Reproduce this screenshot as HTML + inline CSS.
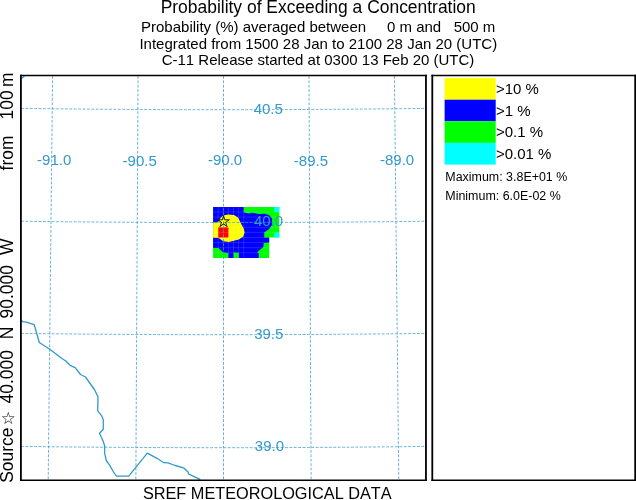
<!DOCTYPE html>
<html lang="en">
<head>
<meta charset="utf-8">
<title>Probability of Exceeding a Concentration</title>
<style>
  html, body { margin: 0; padding: 0; background: #ffffff; }
  body { width: 636px; height: 500px; overflow: hidden; }
  svg { display: block; will-change: transform; }
  text { font-family: "Liberation Sans", "DejaVu Sans", sans-serif; fill: #000; font-kerning: none; font-variant-ligatures: none; }
  .t1 { font-size: 17.45px; }
  .t2 { font-size: 15px; }
  .lab { font-size: 15px; fill: #3399cc; }
  .leg { font-size: 15px; }
  .sm { font-size: 12.45px; }
  .grid { fill: none; stroke: #3399cc; stroke-width: 0.75; stroke-dasharray: 2.8 1.6; }
  .river { fill: none; stroke: #3399cc; stroke-width: 1.3; stroke-linejoin: round; stroke-linecap: round; }
  .frame { fill: none; stroke: #000; stroke-width: 1.8; }
</style>
</head>
<body>
<svg width="636" height="500" viewBox="0 0 636 500">
  <rect x="0" y="0" width="636" height="500" fill="#ffffff"/>

  <!-- titles -->
  <text class="t1" x="318.2" y="12.8" text-anchor="middle">Probability of Exceeding a Concentration</text>
  <text class="t2" x="318.2" y="32" text-anchor="middle" xml:space="preserve" style="white-space:pre">Probability (%) averaged between     0 m and   500 m</text>
  <text class="t2" x="318.3" y="48.6" text-anchor="middle">Integrated from 1500 28 Jan to 2100 28 Jan 20 (UTC)</text>
  <text class="t2" x="318" y="64.7" text-anchor="middle">C-11 Release started at 0300 13 Feb 20 (UTC)</text>

  <!-- concentration probability field -->
  <g shape-rendering="auto">
    <path fill="#00ff00" d="M213.1 206.9 H279.3 V237.6 H269.2 V257.9 H213.1 Z"/>
    <rect fill="#00ffff" x="274.2" y="206.9" width="5.1" height="5.1"/>
    <rect fill="#00ffff" x="274.2" y="232.5" width="5.1" height="5.1"/>
    <path fill="#0000ff" d="M213.1 206.9 H243.75 V212.3 L248.3 213.6 L252.5 212.75 L258.3 214 L265 213.8 L269.2 215.25 L272.1 218.6 V224.8 L269.2 229 L264.2 232.6 V237.6 H269.2 V242.5 L263.75 242.9 L263.3 247.1 L257.1 252.3 L258.75 253.3 V257.9 H238.75 V252.7 L233.6 252.5 V257.9 H228.3 V252.9 L223.3 252.5 L218.3 247.9 H213.1 Z"/>
    <path fill="#ffff00" d="M213.1 222.6 L218.3 222.2 L219.2 219.8 L221.25 217.3 L223.4 215.6 L228 214.6 L234 215.1 L238.2 217.8 L241 223.5 L243.75 228.8 L244.6 232.4 L243.3 236.6 L238.75 239.5 L233.75 240.8 L228.75 242 L223.3 241.2 L218.3 237.7 H213.1 Z"/>
    <rect fill="#ff0000" x="218.2" y="227.3" width="10.3" height="10.3"/>
    <path d="M218.20 206.9 V257.9 M223.30 206.9 V257.9 M228.40 206.9 V257.9 M233.50 206.9 V257.9 M238.60 206.9 V257.9 M243.70 206.9 V257.9 M213.1 212.00 H279.3 M213.1 217.10 H279.3 M213.1 222.20 H279.3 M213.1 227.30 H279.3 M213.1 232.40 H279.3 M213.1 237.50 H279.3 M213.1 242.60 H269.2 M213.1 247.70 H269.2 M213.1 252.80 H269.2" fill="none" stroke="#ffffff" stroke-opacity="0.22" stroke-width="0.6"/>
  </g>

  <!-- map grid -->
  <g class="grid">
    <path d="M52.58 76 L48.20 480"/>
    <path d="M138.04 76 L135.85 480"/>
    <path d="M223.50 76 L223.50 480"/>
    <path d="M308.96 76 L311.15 480"/>
    <path d="M394.42 76 L398.80 480"/>
    <path d="M21 108.39 Q223.5 111.01 426 108.39"/>
    <path d="M21 221.24 Q223.5 223.86 426 221.24"/>
    <path d="M21 333.39 Q223.5 336.01 426 333.39"/>
    <path d="M21 446.39 Q223.5 449.01 426 446.39"/>
  </g>

  <!-- river / boundary -->
  <path class="river" d="M20.6 319.4 L22.6 321.6 L26.3 322.2 L34.2 324.7 L39.3 342.5 L49.7 349.2 L62.2 358.8 L65.5 360.8 L70.2 365.3 L75.5 367.8 L80.5 374.5 L85.5 377 L94.7 390 L98 396.7 L97.7 410.8 L101.7 415.8 L103.3 420 L103.3 429.2 L99.5 433.3 L103 440.8 L104.6 445.8 L104.6 453.2 L106.3 460.5 L109.6 465.1 L113.2 471.5 L116.5 476.2 L128.7 476.2 L147.3 453.2 L157 458.3 L163.9 462.7 L168 462.9 L175.2 465.5 L183.5 467.8 L188 472 L188.9 474.2 L199.9 479.3"/>
  <path class="river" d="M21.5 78.5 L24 76.5"/>

  <!-- labels -->
  <text class="lab" x="37.1" y="164.9">-91.0</text>
  <text class="lab" x="122.6" y="165.5">-90.5</text>
  <text class="lab" x="208" y="165.2">-90.0</text>
  <text class="lab" x="293.8" y="165.5">-89.5</text>
  <text class="lab" x="380" y="164.8">-89.0</text>
  <text class="lab" x="253.7" y="113.6">40.5</text>
  <text class="lab" x="253.9" y="226.4">40.0</text>
  <text class="lab" x="254.2" y="338.5">39.5</text>
  <text class="lab" x="254.8" y="451.4">39.0</text>

  <!-- source star -->
  <text x="216.2" y="227.4" style="font-family:'DejaVu Sans',sans-serif;font-size:16.3px;stroke:#000;stroke-width:0.25px">☆</text>

  <!-- frames -->
  <g stroke="#000" fill="none" stroke-linecap="butt">
    <path d="M20 75.5 H426.85 M20 480.2 H426.85 M431.45 75.5 H636 M431.45 480.2 H636" stroke-width="1.5"/>
    <path d="M20.9 74.75 V480.95 M425.95 74.75 V480.95 M432.3 74.75 V480.95 M635.2 74.75 V480.95" stroke-width="1.8"/>
  </g>

  <!-- legend -->
  <rect x="444.6" y="78.1" width="51.1" height="21.6" fill="#ffff00"/>
  <rect x="444.6" y="99.7" width="51.1" height="21.6" fill="#0000ff"/>
  <rect x="444.6" y="121.3" width="51.1" height="21.6" fill="#00ff00"/>
  <rect x="444.6" y="142.9" width="51.1" height="21.7" fill="#00ffff"/>
  <text class="leg" x="495.9" y="94.1">&gt;10 %</text>
  <text class="leg" x="495.9" y="115.7">&gt;1 %</text>
  <text class="leg" x="495.9" y="137.3">&gt;0.1 %</text>
  <text class="leg" x="495.9" y="158.9">&gt;0.01 %</text>
  <text class="sm" x="445.3" y="181.4">Maximum: 3.8E+01 %</text>
  <text class="sm" x="445.3" y="199.7">Minimum: 6.0E-02 %</text>

  <!-- left vertical label -->
  <text x="0.75" y="424.1" style="font-family:'DejaVu Sans',sans-serif;font-size:16.8px">☆</text>
  <g transform="translate(13.35 0) rotate(-90)">
    <text class="t1" x="-482.8" y="0">Source</text>
    <text class="t1" x="-403.4" y="0">40.000</text>
    <text class="t1" x="-339.3" y="0">N</text>
    <text class="t1" x="-318.4" y="0">90.000</text>
    <text class="t1" x="-255.1" y="0">W</text>
    <text class="t1" x="-170.4" y="0">from</text>
    <text class="t1" x="-119.4" y="0">100</text>
    <text class="t1" x="-86.9" y="0">m</text>
  </g>

  <!-- bottom label -->
  <text x="142.9" y="498.7" style="font-size:16.3px">SREF METEOROLOGICAL DATA</text>
</svg>
</body>
</html>
